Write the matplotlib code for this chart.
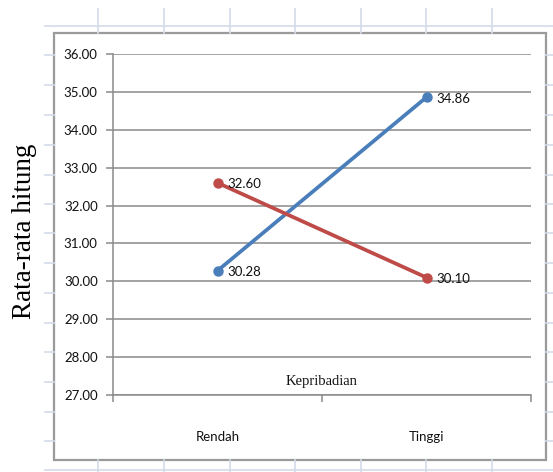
import matplotlib.pyplot as plt
from matplotlib.lines import Line2D
from matplotlib.patches import Rectangle

# nilai rata-rata per kategori kepribadian
kategori = ['Rendah', 'Tinggi']
seri_biru = [30.28, 34.86]
seri_merah = [32.60, 30.10]
y_ticks = [27, 28, 29, 30, 31, 32, 33, 34, 35, 36]

W, H = 553, 472
fig = plt.figure(figsize=(W / 100, H / 100), dpi=100)


def fx(x):
    return x / W


def fy(y):
    return 1 - y / H


# garis sel spreadsheet di belakang grafik
grid_col = '#d3dbe9'
rows = [26, 55, 85, 115, 145, 175, 204, 233, 263, 293, 323, 352, 382, 412, 441, 470]
cols = [98, 164, 230, 295, 361, 426, 492]
for r in rows:
    if r in (26, 470):
        fig.add_artist(Line2D([fx(45), fx(553)], [fy(r), fy(r)], color=grid_col, lw=1.2))
    else:
        fig.add_artist(Line2D([fx(45), fx(54)], [fy(r), fy(r)], color=grid_col, lw=1.2))
        fig.add_artist(Line2D([fx(546), fx(553)], [fy(r), fy(r)], color=grid_col, lw=1.2))
for c in cols:
    fig.add_artist(Line2D([fx(c), fx(c)], [fy(9), fy(33)], color=grid_col, lw=1.2))
    fig.add_artist(Line2D([fx(c), fx(c)], [fy(460), fy(472)], color=grid_col, lw=1.2))

# bingkai grafik
fig.add_artist(Rectangle((fx(54), fy(460)), fx(546) - fx(54), fy(33) - fy(460),
                         facecolor='white', edgecolor='#9a9a9a', lw=1.6,
                         transform=fig.transFigure, zorder=1))

ax = fig.add_axes([fx(113), fy(395), fx(531) - fx(113), fy(54) - fy(395)], zorder=2)
ax.set_facecolor('none')

x = list(range(len(kategori)))
ax.plot(x, seri_biru, color='#4a7ebb', lw=2.7, marker='o', ms=6.5, solid_capstyle='round')
ax.plot(x, seri_merah, color='#be4b48', lw=2.7, marker='o', ms=6.5, solid_capstyle='round')

for xs, ys in ((x, seri_biru), (x, seri_merah)):
    for xi, yi in zip(xs, ys):
        ax.annotate(f'{yi:.2f}', (xi, yi), xytext=(7, -1), textcoords='offset points',
                    va='center', ha='left', fontsize=9.5, family='Lato', color='#111111')

ax.set_xlim(-0.5, 1.5)
ax.set_ylim(27, 36)
ax.set_yticks(y_ticks)
ax.set_yticklabels([f'{v:.2f}' for v in y_ticks], family='Lato', fontsize=9.5, color='#111111')
ax.yaxis.grid(True, color='#8a8a8a', lw=1.1)
ax.set_axisbelow(True)

# sumbu x: tanda di batas kategori, label di tengah
ax.set_xticks([-0.5, 0.5, 1.5])
ax.set_xticklabels([])
ax.set_xticks(x, minor=True)
ax.set_xticklabels(kategori, minor=True, family='Lato', fontsize=9.5, color='#111111')
ax.tick_params(axis='x', which='minor', length=0, pad=26)
ax.tick_params(axis='x', which='major', length=5, color='#8a8a8a', width=1.1)
ax.tick_params(axis='y', length=5, color='#8a8a8a', width=1.1, pad=6)

for s in ('top', 'right'):
    ax.spines[s].set_visible(False)
for s in ('left', 'bottom'):
    ax.spines[s].set_color('#8a8a8a')
    ax.spines[s].set_linewidth(1.1)

ax.text(0.5, 27.35, 'Kepribadian', ha='center', va='center',
        family='Liberation Serif', fontsize=10.5, color='#111111')

fig.text(fx(25), fy(231), 'Rata-rata hitung', rotation=90, ha='center', va='center',
         family='Liberation Serif', fontsize=19.5, color='black')

fig.savefig('out.png', dpi=100)
